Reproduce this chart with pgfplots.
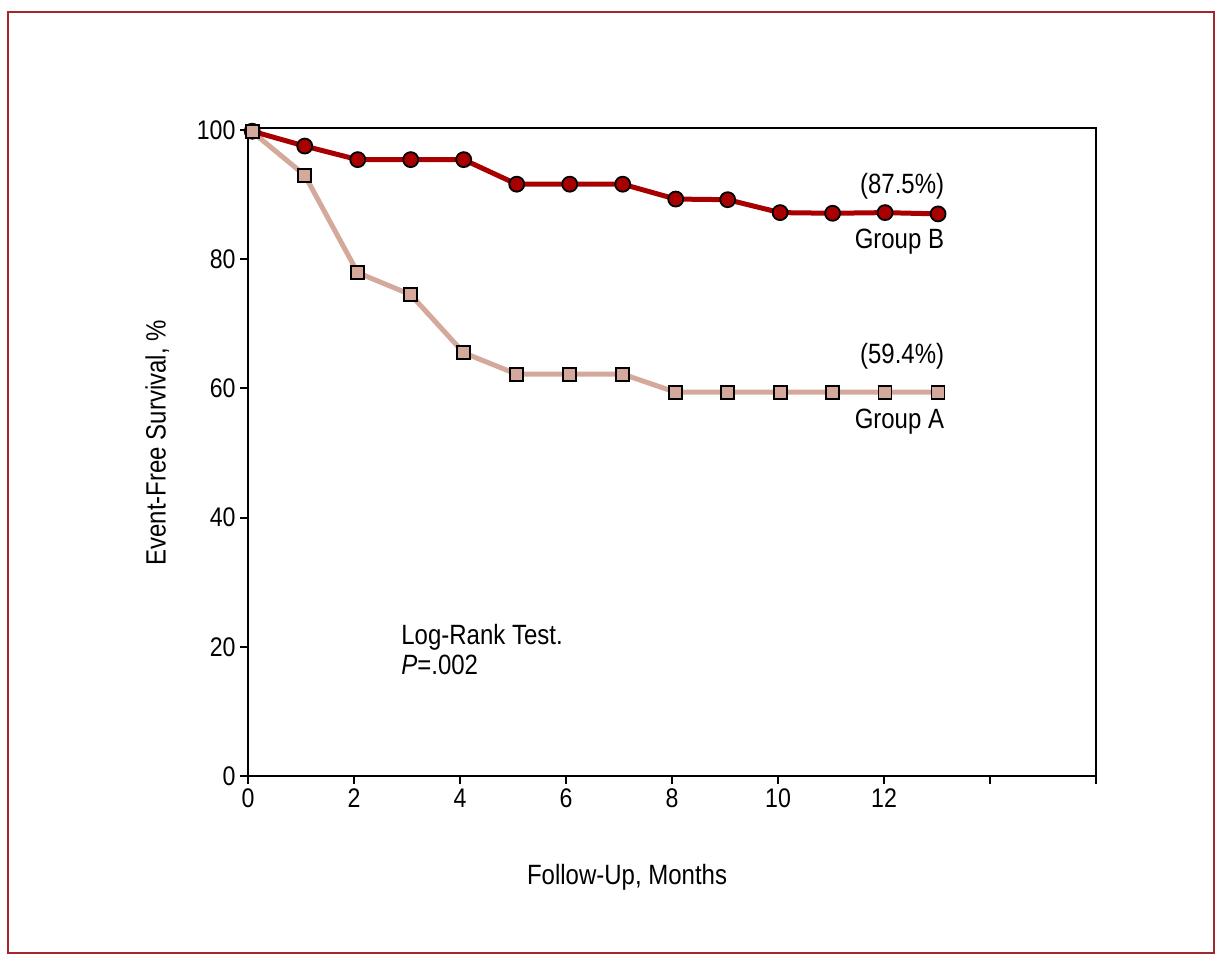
\documentclass[border=0pt]{standalone}
\usepackage{fontspec}
\setmainfont{Liberation Sans}[FakeStretch=0.86]
\usepackage{pgfplots}
\pgfplotsset{compat=1.18}
\definecolor{grpB}{HTML}{A80000}
\definecolor{grpA}{HTML}{D4A89B}
\definecolor{frame}{HTML}{A3282E}
\begin{document}
\begin{tikzpicture}[x=1bp,y=1bp]
\useasboundingbox (0,0) rectangle (1224,963);
\draw[frame, line width=1.5bp] (8,10) rectangle (1214,951);
\begin{axis}[
  at={(248bp,187bp)}, anchor=south west,
  scale only axis, width=848bp, height=648bp,
  xmin=0, xmax=16, ymin=0, ymax=100.3,
  xtick pos=bottom, ytick pos=left,
  axis line style={line width=2bp},
  xtick={0,2,...,16}, xticklabels={0,2,4,6,8,10,12,,},
  ytick={0,20,...,100},
  tick align=outside, major tick length=8bp,
  tick style={line width=2bp, black},
  /pgf/number format/assume math mode=true,
  tick label style={font=\fontsize{27}{31}\selectfont},
  label style={font=\fontsize{28}{32}\selectfont},
  xlabel={Follow-Up, Months},
  ylabel={Event-Free Survival, \%},
  xlabel style={at={(axis description cs:0.447,-0.157)}, anchor=center},
  ylabel style={at={(axis description cs:-0.107,0.514)}, anchor=center, rotate=0},
  clip=false,
  xticklabel style={yshift=-1bp},
  yticklabel style={xshift=-1bp},
]
\addplot+[grpA, line width=5bp, mark=square*, mark size=6.5bp,
  mark options={fill=grpA, draw=black, line width=1.8bp}] coordinates {
(0.08,99.7) (1.07,93.0) (2.07,77.9) (3.07,74.5) (4.07,65.5) (5.07,62.2)
(6.07,62.2) (7.07,62.2) (8.07,59.4) (9.05,59.4) (10.04,59.4) (11.03,59.4)
(12.02,59.4) (13.02,59.4)
};
\addplot+[grpB, line width=5bp, mark=*, mark size=7.5bp,
  mark options={fill=grpB, draw=black, line width=1.8bp}] coordinates {
(0.08,99.8) (1.07,97.5) (2.07,95.4) (3.07,95.4) (4.07,95.4) (5.07,91.6)
(6.07,91.6) (7.07,91.6) (8.07,89.3) (9.05,89.2) (10.04,87.2) (11.03,87.1)
(12.02,87.2) (13.02,87.0)
};
\addplot+[grpA, line width=0pt, mark=square*, mark size=6.5bp, only marks,
  mark options={fill=grpA, draw=black, line width=1.8bp}] coordinates {(0.08,99.7)};
\node[anchor=east, font=\fontsize{28}{32}\selectfont] at (axis cs:13.2,91.3) {(87.5\%)};
\node[anchor=east, font=\fontsize{28}{32}\selectfont] at (axis cs:13.2,82.7) {Group B};
\node[anchor=east, font=\fontsize{28}{32}\selectfont] at (axis cs:13.2,65.0) {(59.4\%)};
\node[anchor=east, font=\fontsize{28}{32}\selectfont] at (axis cs:13.2,54.8) {Group A};
\node[anchor=west, font=\fontsize{28}{32}\selectfont, inner sep=0pt] at (axis cs:2.89,21.4) {Log-Rank Test.};
\node[anchor=west, font=\fontsize{28}{32}\selectfont, inner sep=0pt] at (axis cs:2.89,17.2) {\textit{P}=.002};
\end{axis}
\end{tikzpicture}
\end{document}
